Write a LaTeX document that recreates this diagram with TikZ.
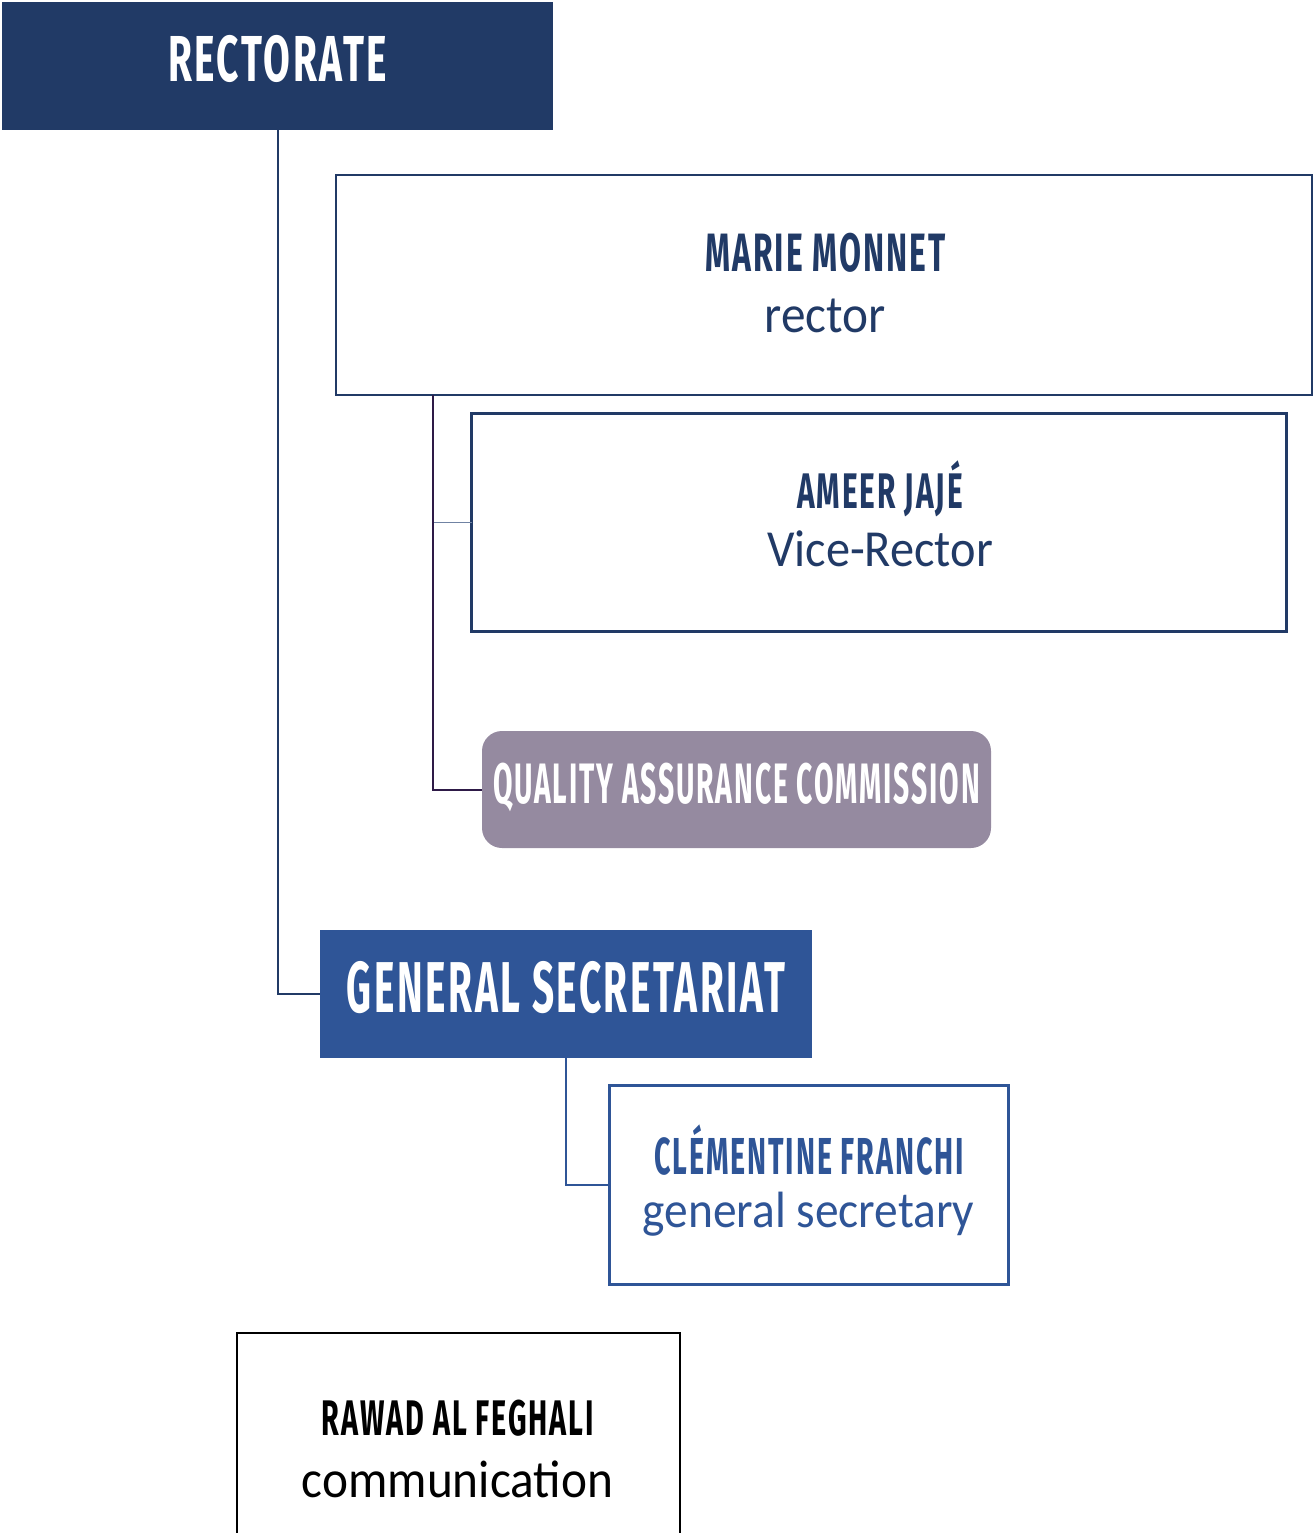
\documentclass[tikz,border=0pt]{standalone}
\usepackage{fontspec}
\usepackage{graphicx}
\setmainfont{Carlito}
\newfontfamily\bebas[FakeStretch=0.6,LetterSpace=4]{Fira Sans}
\newfontfamily\bodyf[FakeStretch=0.93]{Carlito}
\definecolor{navy}{HTML}{213A66}
\definecolor{gsblue}{HTML}{2F5597}
\definecolor{qacfill}{HTML}{958AA0}
\definecolor{purpline}{HTML}{2E1A47}
\definecolor{branch}{HTML}{7083A3}
\newcommand{\hd}[3]{\resizebox{#2pt}{\height}{\bebas\bfseries\fontsize{#1}{#1}\selectfont #3}}
\newcommand{\bd}[1]{\bodyf\fontsize{#1}{#1}\selectfont}
\tikzset{
  filledbox/.style={draw=none, rectangle, inner sep=0pt, outer sep=0pt},
  outlinebox/.style={draw, rectangle, fill=white, inner sep=0pt, outer sep=0pt},
  txt/.style={anchor=base, inner sep=0pt},
  conn/.style={line width=2pt},
}
\begin{document}
\begin{tikzpicture}[x=1pt, y=-1pt]
\useasboundingbox (0,0) rectangle (1313,1533);
% Rectorate
\node[filledbox, fill=navy, minimum width=551pt, minimum height=128pt] (rect) at (277.5,66) {};
\node[txt, text=white] (rectT) at (277.5,82) {\hd{65}{219}{RECTORATE}};
% Rector box
\node[outlinebox, draw=navy, line width=2pt, minimum width=976pt, minimum height=219pt] (rector) at (824,285) {};
\node[txt, text=navy] (rectorN) at (825.5,271) {\hd{54}{241}{MARIE MONNET}};
\node[txt, text=navy] (rectorR) at (825,332) {\bd{53}rector};
% Vice-rector box
\node[outlinebox, draw=navy, line width=2.5pt, minimum width=815pt, minimum height=218pt] (vice) at (879,522.5) {};
\node[txt, text=navy] (viceN) at (880,508) {\hd{50}{166}{AMEER JAJÉ}};
\node[txt, text=navy] (viceR) at (880,566) {\bd{52}Vice-Rector};
% QAC
\node[filledbox, fill=qacfill, rounded corners=20pt, minimum width=509pt, minimum height=117pt] (qac) at (736.5,789.5) {};
\node[txt, text=white] (qacT) at (736.5,803) {\hd{57}{487}{QUALITY ASSURANCE COMMISSION}};
% General Secretariat
\node[filledbox, fill=gsblue, minimum width=492pt, minimum height=128pt] (gs) at (566,994) {};
\node[txt, text=white] (gsT) at (566,1012) {\hd{72}{438}{GENERAL SECRETARIAT}};
% Clementine
\node[outlinebox, draw=gsblue, line width=2.5pt, minimum width=399pt, minimum height=199pt] (clem) at (809,1185) {};
\node[txt, text=gsblue] (clemN) at (809,1174) {\hd{52}{310}{CLÉMENTINE FRANCHI}};
\node[txt, text=gsblue] (clemR) at (808.5,1227) {\bd{51}general secretary};
% Rawad
\node[outlinebox, draw=black, line width=1.2pt, minimum width=443pt, minimum height=202pt] (rawad) at (458.5,1434) {};
\node[txt, text=black] (rawadN) at (458,1435) {\hd{50}{272}{RAWAD AL FEGHALI}};
\node[txt, text=black] (rawadR) at (457.5,1497) {\bd{53}communication};
% Connectors
\draw[conn, draw=navy] (rect.south) |- (gs.west);
\draw[conn, draw=purpline] (rector.south west) ++(97,0) |- (qac.west);
\draw[line width=1.5pt, draw=branch] (vice.west) -- ++(-38,0);
\draw[conn, draw=gsblue] (gs.south) |- (clem.west);
\end{tikzpicture}
\end{document}
